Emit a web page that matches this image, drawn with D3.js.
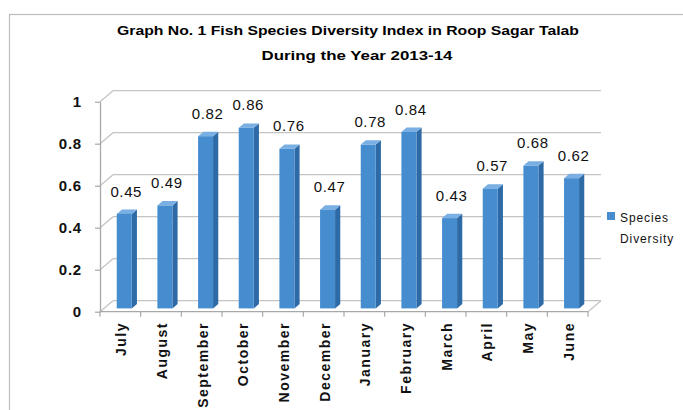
<!DOCTYPE html>
<html><head><meta charset="utf-8">
<script src="https://cdn.jsdelivr.net/npm/d3@7"></script>
<style>
body{margin:0;background:#fff;}
svg{display:block;font-family:Arial,"Liberation Sans",sans-serif;}
</style></head>
<body><svg id="c" width="683" height="410"></svg>
<script>
const months = ["July","August","September","October","November","December","January","February","March","April","May","June"];
const diversity = [0.45,0.49,0.82,0.86,0.76,0.47,0.78,0.84,0.43,0.57,0.68,0.62];
const yTicks = [0,0.2,0.4,0.6,0.8,1];
const titleLines = ["Graph No. 1 Fish Species Diversity Index in Roop Sagar Talab","During the Year 2013-14"];
const legendLines = ["Species","Diversity"];

const svg = d3.select("#c");
const DX = 13, DY = -11;
const x = d3.scaleBand().domain(months).range([100,588]).padding(0);
const y = d3.scaleLinear().domain([0,1]).range([311.7,101.7]);
const grid = "#c4c4c4";

// chart border
svg.append("rect").attr("x",9.5).attr("y",14.5).attr("width",700).attr("height",420)
  .attr("fill","none").attr("stroke","#bdbdbd").attr("stroke-width",1.2);

// title
const tl = svg.append("g").attr("font-weight","bold").attr("font-size",13).attr("fill","#000");
tl.append("text").attr("x",348).attr("y",35).attr("text-anchor","middle")
  .attr("textLength",462).attr("lengthAdjust","spacingAndGlyphs").text(titleLines[0]);
tl.append("text").attr("x",357).attr("y",60).attr("text-anchor","middle")
  .attr("textLength",191).attr("lengthAdjust","spacingAndGlyphs").text(titleLines[1]);

const [x0,x1] = x.range();
// back wall gridlines + left wall slants
yTicks.forEach(t=>{
  if(t>0){
    svg.append("line").attr("x1",x0+DX).attr("x2",x1+DX).attr("y1",y(t)+DY).attr("y2",y(t)+DY)
      .attr("stroke",grid).attr("stroke-width",1.3);
  }
  svg.append("line").attr("x1",x0).attr("x2",x0+DX).attr("y1",y(t)).attr("y2",y(t)+DY)
    .attr("stroke",grid).attr("stroke-width",1.3);
});
// floor
svg.append("line").attr("x1",x0+DX).attr("x2",x1+DX).attr("y1",y(0)+DY).attr("y2",y(0)+DY)
  .attr("stroke",grid).attr("stroke-width",1.3);
svg.append("line").attr("x1",x1).attr("x2",x1+DX).attr("y1",y(0)).attr("y2",y(0)+DY)
  .attr("stroke",grid).attr("stroke-width",1.3);

// bars
const t1 = 0.3, t2 = 0.7, bw = 15;
const bars = svg.append("g");
months.forEach((m,i)=>{
  const v = diversity[i];
  const cx = x(m) + x.bandwidth()/2 + t1*DX;
  const fx = cx - bw/2;
  const fb = y(0) + t1*DY;
  const ft = y(v) + t1*DY;
  const ddx = (t2-t1)*DX, ddy = (t2-t1)*DY;
  bars.append("path").attr("d",`M${fx+bw},${ft}L${fx+bw+ddx},${ft+ddy}L${fx+bw+ddx},${fb+ddy}L${fx+bw},${fb}Z`)
    .attr("fill","#2e6aa6");
  bars.append("path").attr("d",`M${fx},${ft}L${fx+ddx},${ft+ddy}L${fx+bw+ddx},${ft+ddy}L${fx+bw},${ft}Z`)
    .attr("fill","#79afe2");
  bars.append("rect").attr("x",fx).attr("y",ft).attr("width",bw).attr("height",fb-ft)
    .attr("fill","#468dd0");
  svg.append("text").attr("x",cx+2).attr("y",ft+ddy-13).attr("text-anchor","middle")
    .attr("font-size",15).attr("letter-spacing",0.6).attr("fill","#111")
    .text(v.toFixed(2));
});

// front x-axis line
svg.append("line").attr("x1",x0).attr("x2",x1).attr("y1",y(0)).attr("y2",y(0))
  .attr("stroke","#a8a8a8").attr("stroke-width",1.3);
months.concat([null]).forEach((m,i)=>{
  const px = m===null ? x1 : x(m);
  svg.append("line").attr("x1",px).attr("x2",px).attr("y1",y(0)).attr("y2",y(0)+5)
    .attr("stroke","#a8a8a8").attr("stroke-width",1.2);
});
months.forEach(m=>{
  const px = x(m)+x.bandwidth()/2+1;
  svg.append("text").attr("transform",`translate(${px},322) rotate(-90)`)
    .attr("text-anchor","end").attr("dominant-baseline","central")
    .attr("font-size",14).attr("font-weight","bold").attr("letter-spacing",1.5).attr("fill","#111")
    .text(m);
});

// y axis
const ya = d3.axisLeft(y).tickValues(yTicks).tickSize(5).tickSizeOuter(0).tickPadding(13)
  .tickFormat(d=>d===0?"0":d===1?"1":String(d));
const yg = svg.append("g").attr("transform","translate(100,0)").call(ya);
yg.select(".domain").attr("stroke","#a8a8a8").attr("stroke-width",1.3);
yg.selectAll(".tick line").attr("stroke","#a8a8a8").attr("stroke-width",1.2);
yg.selectAll(".tick text").attr("font-size",15).attr("font-weight","bold").attr("letter-spacing",0.8)
  .attr("fill","#111").attr("font-family","Arial,'Liberation Sans',sans-serif");

// legend
svg.append("rect").attr("x",607).attr("y",212).attr("width",8).attr("height",8).attr("fill","#468dd0");
legendLines.forEach((s,i)=>{
  svg.append("text").attr("x",620).attr("y",218+i*21).attr("dominant-baseline","central")
    .attr("font-size",12).attr("letter-spacing",0.9).attr("fill","#111").text(s);
});
</script></body></html>
